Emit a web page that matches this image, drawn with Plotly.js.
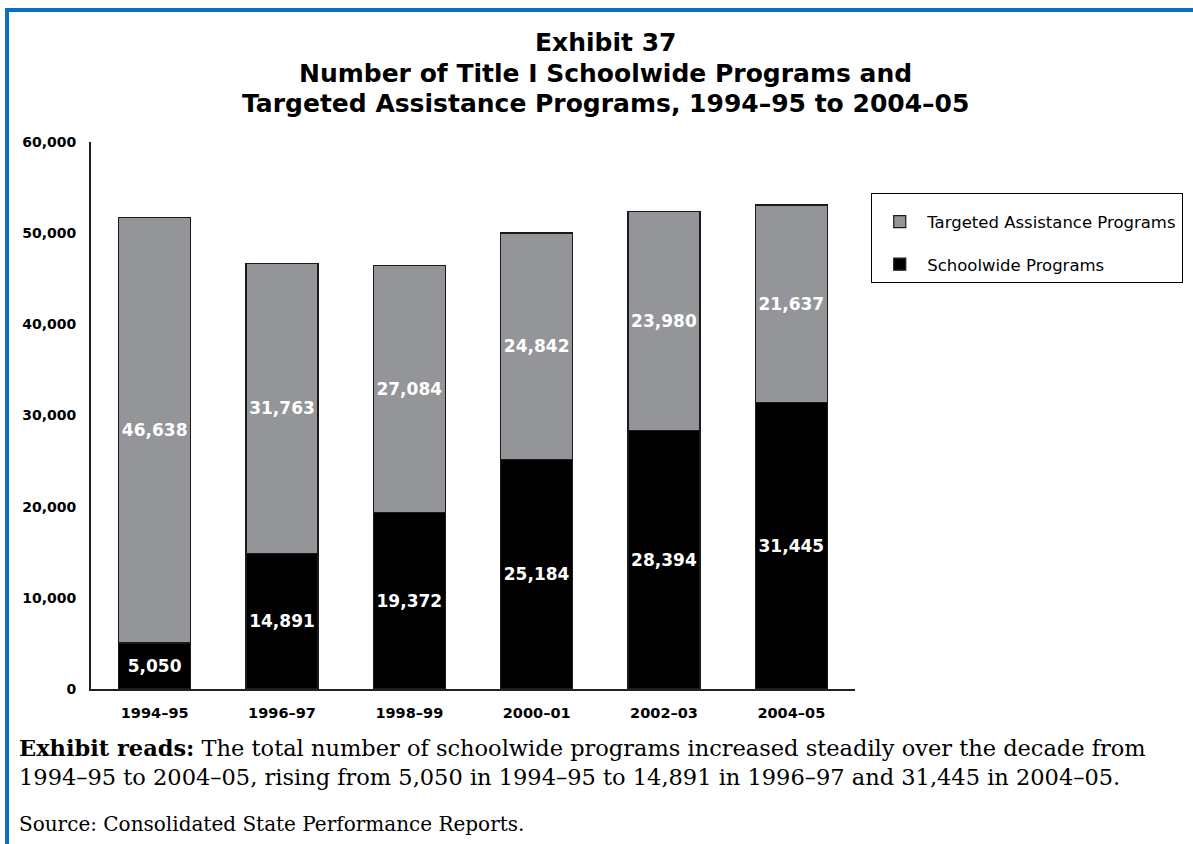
<!DOCTYPE html>
<html>
<head>
<meta charset="utf-8">
<script src="https://cdn.plot.ly/plotly-3.0.1.min.js"></script>
<style>
html, body { margin: 0; padding: 0; background: #fff; }
#wrap { position: relative; width: 1193px; height: 844px; overflow: hidden; }
#chart { position: absolute; left: 0; top: 0; width: 1193px; height: 844px; }
#frame { position: absolute; left: 5px; top: 8px; width: 1200px; height: 900px;
  border-top: 4px solid #0b6fbf; border-left: 4px solid #0b6fbf; pointer-events: none; }
</style>
</head>
<body>
<div id="wrap">
<div id="chart"></div>
<div id="frame"></div>
</div>
<script>
const years = ['1994–95', '1996–97', '1998–99', '2000–01', '2002–03', '2004–05'];
const schoolwide = [5050, 14891, 19372, 25184, 28394, 31445];
const targeted = [46638, 31763, 27084, 24842, 23980, 21637];
const yTicks = [0, 10000, 20000, 30000, 40000, 50000, 60000];
const titleLines = ['Exhibit 37', 'Number of Title I Schoolwide Programs and', 'Targeted Assistance Programs, 1994–95 to 2004–05'];

const fmt = v => v.toLocaleString('en-US');
const sans = 'DejaVu Sans, Verdana, sans-serif';
const serif = 'DejaVu Serif, Georgia, serif';

const traces = [
  {
    type: 'bar', name: 'Schoolwide Programs', x: years, y: schoolwide,
    legendgroup: 'sw', legendrank: 2,
    marker: { color: '#000000', line: { color: '#1a1a1a', width: 1.2 } },
    text: schoolwide.map(fmt), textposition: 'inside', insidetextanchor: 'middle', textangle: 0,
    textfont: { family: sans, size: 17, color: '#ffffff', weight: 'bold' },
    constraintext: 'none', hoverinfo: 'x+y'
  },
  {
    type: 'bar', name: 'Targeted Assistance Programs', x: years, y: targeted,
    legendgroup: 'ta', legendrank: 1,
    marker: { color: '#939598', line: { color: '#1a1a1a', width: 1.2 } },
    text: targeted.map(fmt), textposition: 'inside', insidetextanchor: 'middle', textangle: 0,
    textfont: { family: sans, size: 17, color: '#ffffff', weight: 'bold' },
    constraintext: 'none', hoverinfo: 'x+y'
  }
];

const titleY = [1.1828, 1.1261, 1.0695];
const annotations = titleLines.map((t, i) => ({
  xref: 'paper', yref: 'paper', x: 0.6728, y: titleY[i], xanchor: 'center', yanchor: 'middle',
  showarrow: false, text: '<b>' + t + '</b>',
  font: { family: sans, size: 25, color: '#000' }
}));
annotations.push(
  { xref: 'paper', yref: 'paper', x: -0.097, y: -0.108, xanchor: 'left', yanchor: 'middle',
    showarrow: false, align: 'left',
    text: '<b>Exhibit reads:</b> The total number of schoolwide programs increased steadily over the decade from',
    font: { family: serif, size: 22.5, color: '#000' } },
  { xref: 'paper', yref: 'paper', x: -0.097, y: -0.161, xanchor: 'left', yanchor: 'middle',
    showarrow: false, align: 'left',
    text: '1994–95 to 2004–05, rising from 5,050 in 1994–95 to 14,891 in 1996–97 and 31,445 in 2004–05.',
    font: { family: serif, size: 22.5, color: '#000' } },
  { xref: 'paper', yref: 'paper', x: -0.097, y: -0.247, xanchor: 'left', yanchor: 'middle',
    showarrow: false, align: 'left',
    text: 'Source: Consolidated State Performance Reports.',
    font: { family: serif, size: 20, color: '#000' } }
);

const layout = {
  width: 1193, height: 844,
  margin: { l: 91, r: 338, t: 142, b: 155, autoexpand: false },
  paper_bgcolor: '#ffffff', plot_bgcolor: '#ffffff',
  barmode: 'stack', bargap: 0.435,
  font: { family: sans, color: '#000' },
  xaxis: {
    type: 'category', range: [-0.5, 5.5], showgrid: false, zeroline: false,
    showline: true, linecolor: '#222', linewidth: 2, ticks: '',
    tickfont: { family: sans, size: 14.5, weight: 'bold', color: '#000' }, ticklabelstandoff: 10
  },
  yaxis: {
    range: [0, 60000], tickvals: yTicks, ticktext: yTicks.map(fmt),
    showgrid: false, zeroline: false, showline: true, linecolor: '#222', linewidth: 2,
    ticks: '', tickfont: { family: sans, size: 14, weight: 'bold', color: '#000' }, ticklabelstandoff: 10
  },
  showlegend: true,
  legend: {
    x: 1.021, xanchor: 'left', y: 0.907, yanchor: 'top',
    bordercolor: '#000', borderwidth: 1.2, bgcolor: '#fff',
    font: { family: sans, size: 16.5, color: '#000' }, tracegroupgap: 18, itemwidth: 45,
    traceorder: 'grouped',
    title: { text: ' ', font: { size: 8 } }
  },
  annotations: annotations
};

Plotly.newPlot('chart', traces, layout, { staticPlot: true, displayModeBar: false });
</script>
</body>
</html>
